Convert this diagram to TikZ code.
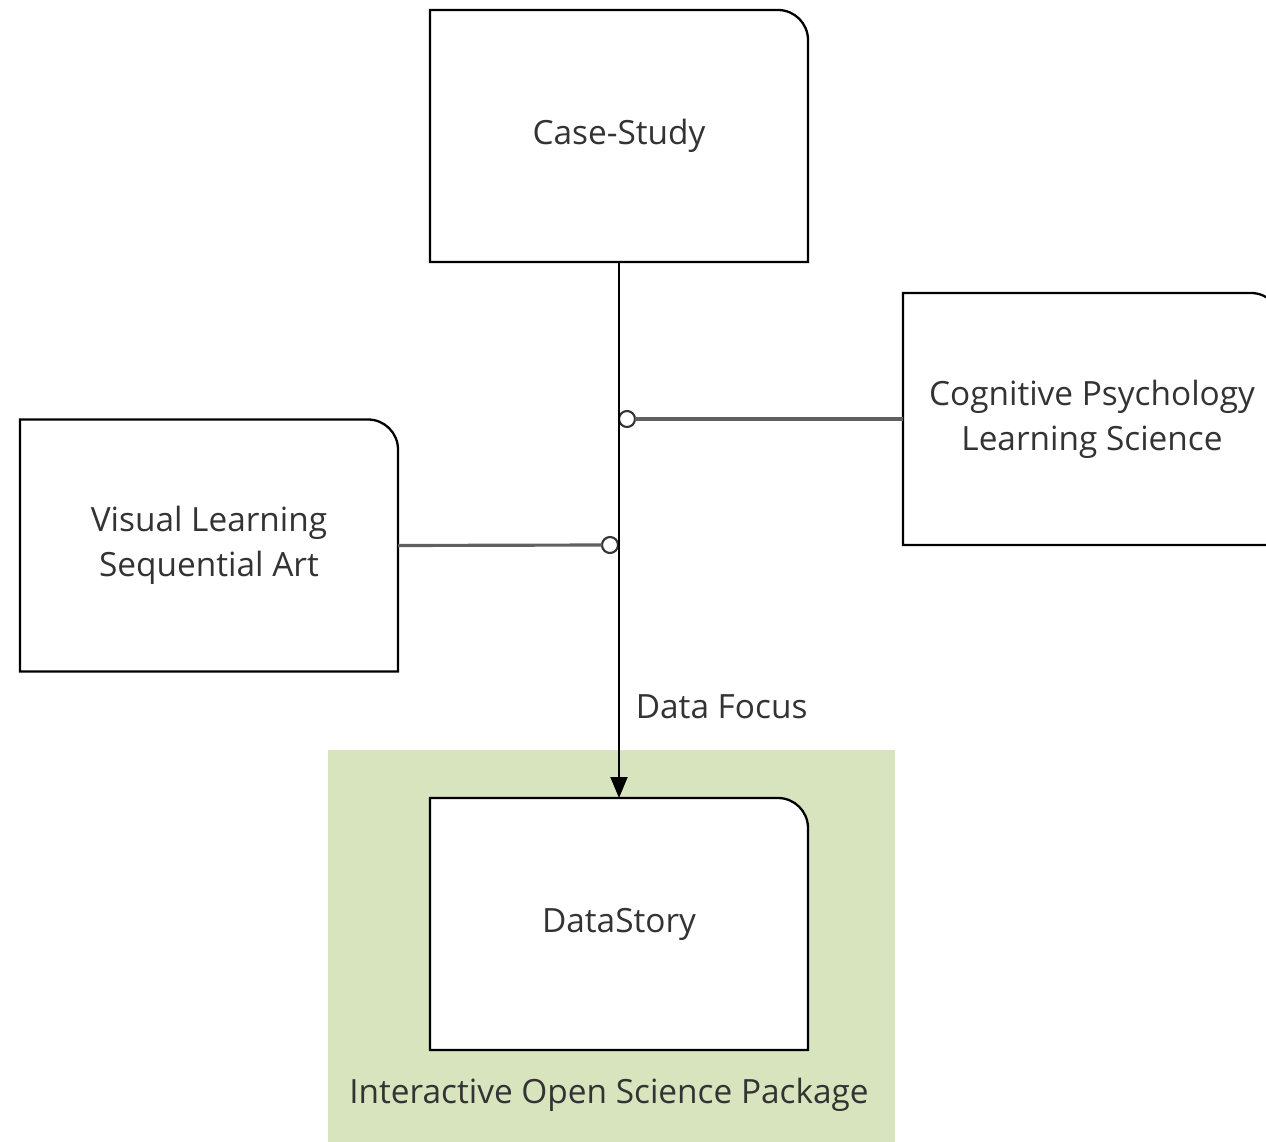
\documentclass[tikz,border=0pt]{standalone}
\usepackage{fontspec}
\setmainfont{Open Sans}
\usetikzlibrary{arrows.meta, backgrounds}
\definecolor{pkggreen}{HTML}{D7E4BD}
\definecolor{linkgray}{HTML}{606060}
\definecolor{textgray}{HTML}{333333}
\begin{document}
\begin{tikzpicture}[
    card/.style={minimum width=7.56cm, minimum height=5.04cm, outer sep=0pt,
        align=center, text=textgray, font=\fontsize{19}{25.6}\selectfont},
    ring/.style={circle, draw=black!80, line width=1.2pt, fill=white,
        minimum size=0.32cm, inner sep=0pt, outer sep=0pt},
    link/.style={linkgray, line width=1.8pt},
    lbl/.style={text=textgray, font=\fontsize{19}{22}\selectfont}
]
    \useasboundingbox (0, 0) rectangle (25.32, -22.84);
    % boxes
    \node[card] (case) at (12.38, -2.72) {Case-Study};
    \node[card] (cog) at (21.84, -8.38) {Cognitive Psychology\\Learning Science};
    \node[card] (visual) at (4.18, -10.91) {Visual Learning\\Sequential Art};
    \node[card] (story) at (12.38, -18.48) {DataStory};
    \begin{scope}[on background layer]
        % package area
        \fill[pkggreen] (6.56, -15.0) rectangle (17.9, -22.84);
        \foreach \n in {case, cog, visual, story}
            \filldraw[fill=white, line width=1.3pt] (\n.south west) |- ([xshift=-0.6cm]\n.north east)
                arc[start angle=90, end angle=0, radius=0.6cm] -- (\n.south east) -- cycle;
    \end{scope}
    \node[lbl] (pkg) at (12.18, -21.9) {Interactive Open Science Package};
    % rings on the main line
    \node[ring] (ringcog) at (12.54, -8.38) {};
    \node[ring] (ringvis) at (12.2, -10.9) {};
    % connectors
    \draw[link] (cog.west) -- (ringcog.east);
    \draw[link] (visual.east) -- (ringvis.west);
    \draw[line width=1.1pt, -{Triangle[length=0.42cm, width=0.34cm]}]
        (case.south) -- node[lbl, right=0.2cm, pos=0.83] {Data Focus} (story.north);
\end{tikzpicture}
\end{document}
